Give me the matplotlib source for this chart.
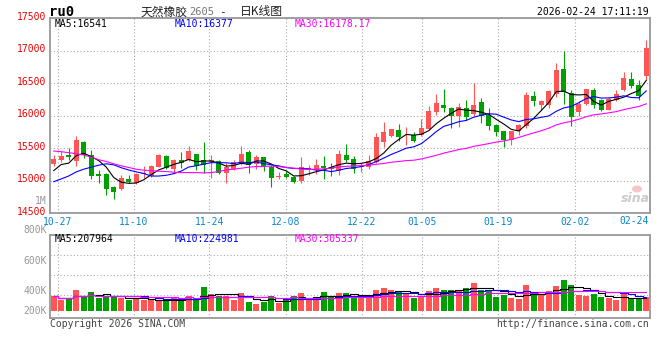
import numpy as np
import pandas as pd
import matplotlib
matplotlib.use("Agg")
import matplotlib.pyplot as plt
from matplotlib.patches import Ellipse
from matplotlib.transforms import ScaledTranslation

# daily candles, oldest first (80 sessions)
opens = [15257, 15319, 15391, 15293, 15599, 15396, 15101, 15101, 14904, 14863,
         15018, 14967, 15096, 15070, 15215, 15381, 15174, 15319, 15308, 15412,
         15319, 15277, 15293, 15112, 15174, 15257, 15433, 15251, 15354, 15215,
         15056, 15097, 15056, 14989, 15174, 15164, 15225, 15215, 15148, 15390,
         15328, 15205, 15200, 15287, 15595, 15677, 15775, 15677, 15698, 15698,
         15791, 16048, 16161, 16120, 15987, 16115, 16028, 16212, 16012, 15859,
         15757, 15629, 15757, 15844, 16304, 16166, 16166, 16335, 16719, 16345,
         16048, 16182, 16397, 16243, 16089, 16243, 16397, 16560, 16473, 16601]
highs = [15396, 15453, 15500, 15681, 15610, 15474, 15163, 15110, 14910, 15086,
         15086, 15110, 15226, 15236, 15412, 15391, 15329, 15433, 15526, 15412,
         15588, 15396, 15319, 15267, 15319, 15526, 15474, 15390, 15354, 15236,
         15138, 15148, 15071, 15359, 15236, 15328, 15380, 15266, 15472, 15559,
         15380, 15267, 15390, 15729, 15893, 15800, 15868, 15816, 15739, 15945,
         16140, 16330, 16407, 16135, 16192, 16243, 16499, 16273, 16115, 15870,
         15760, 15765, 15875, 16355, 16371, 16243, 16397, 16806, 16985, 16386,
         16217, 16407, 16422, 16253, 16284, 16397, 16662, 16662, 16550, 17164]
lows = [15226, 15277, 15319, 15226, 15340, 15018, 14956, 14775, 14723, 14853,
        14956, 14946, 15034, 15060, 15205, 15179, 15112, 15190, 15293, 15164,
        15122, 15034, 15096, 14967, 15163, 15241, 15122, 15174, 15148, 14906,
        15020, 15045, 14968, 14968, 15081, 15107, 15030, 15071, 15081, 15277,
        15112, 15133, 15174, 15266, 15523, 15662, 15611, 15544, 15595, 15688,
        15780, 16006, 16048, 15810, 15823, 15935, 15987, 15884, 15772, 15680,
        15516, 15552, 15706, 15808, 16141, 16089, 16115, 16284, 16181, 15833,
        15997, 16166, 16115, 16064, 16079, 16217, 16371, 16422, 16243, 16550]
closes = [15334, 15381, 15360, 15630, 15391, 15070, 15075, 14863, 14827, 15034,
          14982, 15101, 15111, 15226, 15396, 15190, 15319, 15267, 15448, 15226,
          15241, 15319, 15112, 15205, 15277, 15412, 15241, 15369, 15200, 15045,
          15071, 15056, 14978, 15215, 15194, 15236, 15194, 15184, 15405, 15318,
          15184, 15225, 15302, 15662, 15739, 15791, 15662, 15688, 15611, 15801,
          16073, 16192, 16114, 15990, 16130, 15977, 16166, 15987, 15833, 15741,
          15618, 15757, 15859, 16320, 16228, 16217, 16371, 16703, 16355, 15971,
          16182, 16407, 16166, 16079, 16253, 16335, 16575, 16447, 16304, 17036]
volumes = [245000, 176000, 213000, 336000, 245000, 304000, 213000, 229000, 229000, 213000,
           176000, 213000, 176000, 192000, 160000, 176000, 203000, 176000, 245000, 176000,
           384000, 277000, 245000, 245000, 176000, 293000, 144000, 112000, 144000, 240000,
           133000, 208000, 240000, 288000, 176000, 176000, 304000, 229000, 288000, 288000,
           240000, 240000, 240000, 336000, 368000, 336000, 304000, 272000, 213000, 219000,
           320000, 368000, 336000, 336000, 336000, 368000, 448000, 336000, 336000, 229000,
           256000, 208000, 192000, 416000, 304000, 256000, 320000, 400000, 496000, 416000,
           256000, 240000, 272000, 224000, 208000, 176000, 272000, 192000, 192000, 224000]

# moving averages at the start of the window (earlier sessions are off-chart)
ma5_head = [15153, 15246, 15267, 15381]
ma10_head = [14982, 15024, 15070, 15132, 15174, 15205, 15236, 15257, 15241]
ma30_head = [15453, 15443, 15428, 15412, 15391, 15360, 15319, 15293, 15257, 15226,
             15200, 15174, 15158, 15153, 15143, 15138, 15127, 15122, 15122, 15122,
             15117, 15122, 15138, 15163, 15174, 15189, 15205, 15215, 15215]

date_labels = ['10-27', '11-10', '11-24', '12-08', '12-22', '01-05', '01-19', '02-02']
date_pos = [0.5, 10.65, 20.75, 30.95, 41.05, 49.15, 59.25, 69.5]
last_date = '02-24'
price_ticks = [14500, 15000, 15500, 16000, 16500, 17000, 17500]

RED = '#ff5555'
GREEN = '#00a000'
GRID = '#aaaaaa'
FRAME = '#999999'
MONO = 'DejaVu Sans Mono'

W, H = 660, 360
fig = plt.figure(figsize=(6.6, 3.6), dpi=100)


def box(l, t, r, b):
    return [l / W, 1 - b / H, (r - l) / W, (b - t) / H]


def ptext(px, py, s, **kw):
    kw.setdefault('va', 'center')
    kw.setdefault('family', MONO)
    kw.setdefault('fontsize', 7)
    fig.text(px / W, 1 - py / H, s, **kw)


def moving_avg(vals, n, head):
    s = pd.Series(vals, dtype=float).rolling(n).mean()
    s.iloc[:len(head)] = head
    return s.values


ax = fig.add_axes(box(50, 18, 650, 213))
axv = fig.add_axes(box(50, 235, 650, 318))

x = np.arange(len(closes))
o = np.array(opens, float)
c = np.array(closes, float)
up = c >= o
col = np.where(up, RED, GREEN)

# candles
ax.vlines(x, lows, highs, color=col, lw=0.8, zorder=2)
ax.bar(x, np.maximum(np.abs(c - o), 10), bottom=np.minimum(o, c), width=0.7,
       color=col, lw=0, zorder=3)

ax.plot(x, moving_avg(closes, 5, ma5_head), color='black', lw=0.8, zorder=4)
ax.plot(x, moving_avg(closes, 10, ma10_head), color='#0000ff', lw=0.8, zorder=4)
ax.plot(x, moving_avg(closes, 30, ma30_head), color='#ff00ff', lw=0.8, zorder=4)

ax.set_xlim(-0.5, len(closes) - 0.5)
ax.set_ylim(14500, 17500)
ax.set_yticks(price_ticks)
ax.set_yticklabels([str(t) for t in price_ticks])
ax.set_xticks(date_pos)
ax.set_xticklabels(date_labels)
ax.tick_params(length=0)
ax.tick_params(axis='y', colors='#ee0000', labelsize=7, pad=3)
ax.tick_params(axis='x', colors='#0a84d0', labelsize=7, pad=3)
for lbl in ax.get_yticklabels() + ax.get_xticklabels():
    lbl.set_family(MONO)
for lbl in ax.get_yticklabels():
    lbl.set_transform(lbl.get_transform() + ScaledTranslation(0, 0.02, fig.dpi_scale_trans))
ax.grid(True, ls=(0, (1, 2)), color=GRID, lw=0.8)
for sp in ax.spines.values():
    sp.set_color(FRAME)
    sp.set_linewidth(1.3)

# volume
axv.bar(x, volumes, width=0.8, color=col, lw=0, zorder=2)
vs = pd.Series(volumes, dtype=float)
for n, cc in [(5, 'black'), (10, '#0000ff'), (30, '#ff00ff')]:
    axv.plot(x, vs.rolling(n, min_periods=1).mean().values, color=cc, lw=0.8,
             drawstyle='steps-mid', zorder=3)
axv.set_xlim(-0.5, len(closes) - 0.5)
axv.set_ylim(-112000, 1216000)
axv.set_yticks([256000, 576000, 896000])
axv.set_xticks(date_pos)
axv.tick_params(length=0, labelleft=False, labelbottom=False)
axv.grid(True, ls=(0, (1, 2)), color=GRID, lw=0.8)
for sp in axv.spines.values():
    sp.set_color(FRAME)
    sp.set_linewidth(1.3)

# header
ptext(49, 12, 'ru0', fontsize=10, weight='bold', color='black')
ptext(141, 12, '天然橡胶', family='Noto Sans CJK SC', fontsize=8.5, color='#222222')
ptext(189, 12, '2605', fontsize=7.5, color='#777777')
ptext(222, 12, '-', fontsize=8, color='#222222', ha='center')
ptext(240, 12, '日K线图', family='Noto Sans CJK SC', fontsize=8.5, color='#222222')
ptext(649, 12, '2026-02-24 17:11:19', ha='right', color='black')

ptext(55, 24, 'MA5:16541', color='black')
ptext(175, 24, 'MA10:16377', color='#0000ff')
ptext(295, 24, 'MA30:16178.17', color='#ff00ff')
ptext(55, 239, 'MA5:207964', color='black')
ptext(175, 239, 'MA10:224981', color='#0000ff')
ptext(295, 239, 'MA30:305337', color='#ff00ff')

ptext(634, 221, last_date, ha='center', color='#0a84d0')
for py, s in [(201, '1M'), (230, '800K'), (261, '600K'), (291, '400K'), (311, '200K')]:
    ptext(47, py, s, ha='right', color='#999999')

ptext(50, 324, 'Copyright 2026 SINA.COM', color='#444444')
ptext(649, 324, 'http://finance.sina.com.cn', ha='right', color='#444444')

# faint sina watermark: eye logo plus wordmark
fig.add_artist(Ellipse((637 / W, 1 - 189 / H), 10 / W, 7 / H, color='#f4c6c6', lw=0))
ptext(635, 199, 'sina', ha='center', fontsize=9, style='italic', weight='bold',
      family='DejaVu Sans', color='#cccccc')

fig.savefig('out.png', dpi=100)
